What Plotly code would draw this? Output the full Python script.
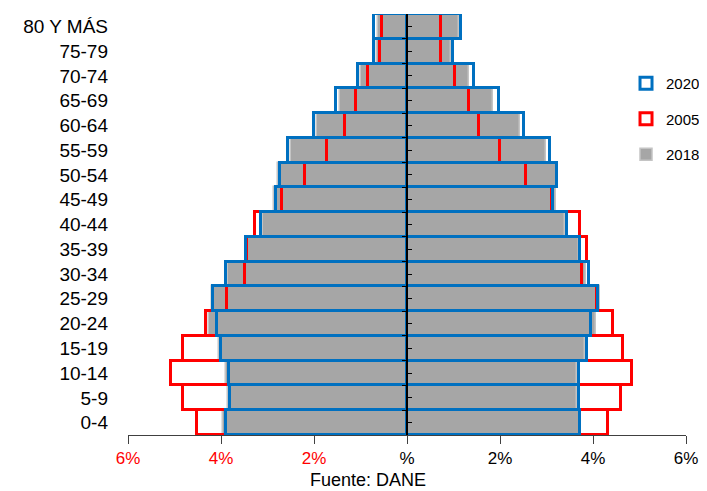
import plotly.graph_objects as go

categories = ["0-4", "5-9", "10-14", "15-19", "20-24", "25-29", "30-34", "35-39",
              "40-44", "45-49", "50-54", "55-59", "60-64", "65-69", "70-74", "75-79", "80 Y MÁS"]

# left side (men) values in %, right side (women) values in %
men_2018 = [3.96, 3.85, 3.90, 4.05, 4.25, 4.20, 3.86, 3.45, 3.09, 2.85, 2.78, 2.49, 1.93, 1.45, 1.00, 0.65, 0.63]
women_2018 = [3.71, 3.66, 3.66, 3.82, 4.07, 4.14, 3.86, 3.69, 3.40, 3.21, 3.23, 2.99, 2.42, 1.84, 1.34, 0.94, 1.11]
men_2005 = [4.51, 4.82, 5.07, 4.82, 4.32, 3.87, 3.49, 3.44, 3.26, 2.68, 2.19, 1.71, 1.34, 1.09, 0.83, 0.59, 0.53]
women_2005 = [4.32, 4.61, 4.83, 4.64, 4.43, 4.08, 3.77, 3.88, 3.73, 3.12, 2.56, 1.99, 1.54, 1.34, 1.04, 0.73, 0.74]
men_2020 = [3.90, 3.80, 3.83, 4.00, 4.09, 4.18, 3.90, 3.47, 3.14, 2.81, 2.74, 2.55, 1.99, 1.52, 1.06, 0.70, 0.70]
women_2020 = [3.73, 3.70, 3.70, 3.87, 3.96, 4.10, 3.92, 3.73, 3.44, 3.13, 3.22, 3.08, 2.51, 1.97, 1.45, 0.98, 1.17]

tick_vals = [-6, -4, -2, 0, 2, 4, 6]
tick_text = ["<span style='color:#FF0000'>6%</span>", "<span style='color:#FF0000'>4%</span>",
             "<span style='color:#FF0000'>2%</span>", "%", "2%", "4%", "6%"]

GRAY = "#A6A6A6"
RED = "#FF0000"
BLUE = "#0070C0"

fig = go.Figure()

series = [
    ("2018", men_2018, women_2018, GRAY, dict(color="#C4C4C4", width=1.5), 3),
    ("2005", men_2005, women_2005, "rgba(0,0,0,0)", dict(color=RED, width=3), 2),
    ("2020", men_2020, women_2020, "rgba(0,0,0,0)", dict(color=BLUE, width=3), 1),
]

for name, men, women, fill, line, rank in series:
    fig.add_trace(go.Bar(
        y=categories, x=[-v for v in men], orientation="h", name=name,
        marker=dict(color=fill, line=line), legendgroup=name, showlegend=True,
        legendrank=rank, width=1,
    ))
    fig.add_trace(go.Bar(
        y=categories, x=women, orientation="h", name=name,
        marker=dict(color=fill, line=line), legendgroup=name, showlegend=False,
        legendrank=rank, width=1,
    ))

# invisible trace to activate yaxis2 (central axis)
fig.add_trace(go.Scatter(x=[0], y=[0], yaxis="y2", mode="markers",
                         marker=dict(opacity=0), showlegend=False, hoverinfo="skip"))

fig.update_layout(
    width=699, height=483,
    margin=dict(l=120, r=21, t=6, b=56, autoexpand=False),
    barmode="overlay", bargap=0,
    plot_bgcolor="white", paper_bgcolor="white",
    font=dict(family="Liberation Sans, Arial, sans-serif", size=16, color="#000000"),
    legend=dict(x=0.8925, y=0.874, xanchor="left", yanchor="top",
                font=dict(size=15), tracegroupgap=13, bgcolor="rgba(0,0,0,0)",
                itemwidth=30),
    xaxis=dict(range=[-6, 6], tickvals=tick_vals, ticktext=tick_text,
               showline=True, linecolor="#404040", linewidth=1,
               ticks="outside", ticklen=8, tickcolor="#404040",
               showgrid=False, zeroline=False, tickfont=dict(size=17)),
    yaxis=dict(categoryorder="array", categoryarray=categories,
               showgrid=False, showline=False, ticks="", ticklabelstandoff=19,
               tickfont=dict(size=19)),
    yaxis2=dict(overlaying="y", anchor="free", position=0.5, side="left",
                range=[-0.5, 16.5], showline=True, linecolor="#000000", linewidth=1.5,
                ticks="inside", ticklen=4, tickcolor="#000000", tickvals=list(range(17)),
                showticklabels=False, showgrid=False, zeroline=False, layer="above traces",
                minor=dict(ticks="outside", ticklen=4, tick0=-0.5, dtick=1, tickcolor="#000000")),
    annotations=[dict(text="Fuente: DANE", xref="paper", yref="paper", x=0.43, y=-0.107,
                      xanchor="center", yanchor="middle", showarrow=False,
                      font=dict(size=18, family="Liberation Sans, Arial"))],
)

fig.write_html("out.html")
